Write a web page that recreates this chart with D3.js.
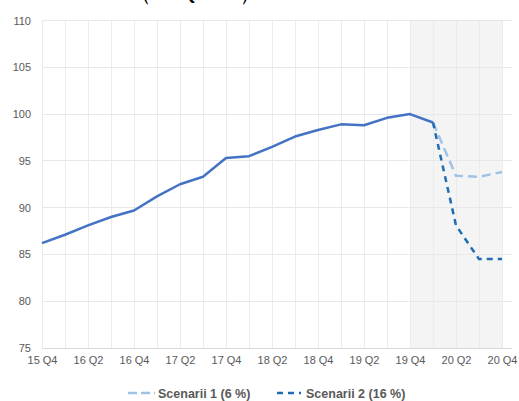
<!DOCTYPE html>
<html>
<head>
<meta charset="utf-8">
<script src="https://cdn.jsdelivr.net/npm/d3@7"></script>
<style>
  html, body { margin: 0; padding: 0; background: #fff; }
  svg { display: block; }
  text { font-family: "Liberation Sans", Arial, sans-serif; }
</style>
</head>
<body>
<svg id="chart" width="519" height="401"></svg>
<script>
const categories = ["15 Q4","16 Q1","16 Q2","16 Q3","16 Q4","17 Q1","17 Q2","17 Q3","17 Q4","18 Q1","18 Q2","18 Q3","18 Q4","19 Q1","19 Q2","19 Q3","19 Q4","20 Q1","20 Q2","20 Q3","20 Q4"];
const tickLabels = ["15 Q4","16 Q2","16 Q4","17 Q2","17 Q4","18 Q2","18 Q4","19 Q2","19 Q4","20 Q2","20 Q4"];
const yTicks = [75, 80, 85, 90, 95, 100, 105, 110];

const historyCats = categories.slice(0, 18);
const historyValues = [86.2, 87.1, 88.1, 89.0, 89.7, 91.2, 92.5, 93.3, 95.3, 95.5, 96.5, 97.6, 98.3, 98.9, 98.8, 99.6, 100.0, 99.1];

const scenarioCats = ["20 Q1","20 Q2","20 Q3","20 Q4"];
const scenario1Values = [99.1, 93.4, 93.3, 93.8];
const scenario2Values = [99.1, 88.1, 84.5, 84.5];
const seriesNames = ["Scenarii 1 (6 %)", "Scenarii 2 (16 %)"];
const shadeRange = ["19 Q4", "20 Q4"];
const titleText = "(2019 Q4 = 100)";

const svg = d3.select("#chart");
const x = d3.scalePoint().domain(categories).range([42, 502]);
const y = d3.scaleLinear().domain([75, 110]).range([348, 20.5]);
const plotRight = 512;

// title (cut off at the top edge, only descenders visible)
svg.append("text")
  .attr("x", 143).attr("y", -1.5)
  .attr("textLength", 105)
  .attr("lengthAdjust", "spacingAndGlyphs")
  .style("font-family", "'Liberation Serif', 'Times New Roman', serif")
  .style("font-weight", "bold")
  .style("font-size", "28px")
  .attr("fill", "#000")
  .text(titleText);

// shaded forecast area
svg.append("rect")
  .attr("x", x(shadeRange[0]))
  .attr("y", y(110))
  .attr("width", x(shadeRange[1]) - x(shadeRange[0]))
  .attr("height", y(75) - y(110))
  .attr("fill", "#F4F4F4");

// vertical gridlines
svg.append("g").selectAll("line").data(categories).join("line")
  .attr("x1", d => x(d)).attr("x2", d => x(d))
  .attr("y1", y(110)).attr("y2", y(75))
  .attr("stroke", "#EBEBEB").attr("stroke-width", 1)
  .attr("shape-rendering", "crispEdges");

// horizontal gridlines
svg.append("g").selectAll("line").data(yTicks).join("line")
  .attr("x1", x(categories[0])).attr("x2", plotRight)
  .attr("y1", d => y(d)).attr("y2", d => y(d))
  .attr("stroke", d => d === 75 ? "#D9D9D9" : "#E8E8E8").attr("stroke-width", 1)
  .attr("shape-rendering", "crispEdges");

// y axis labels
const yAxis = d3.axisLeft(y).tickValues(yTicks).tickSize(0).tickPadding(0);
const gy = svg.append("g").attr("transform", "translate(31,0)").call(yAxis);
gy.select(".domain").remove();
gy.selectAll("text").attr("fill", "#595959").style("font-size", "11px")
  .style("font-family", "'Liberation Sans', Arial, sans-serif");

// x axis labels
const xAxis = d3.axisBottom(x).tickValues(tickLabels).tickSize(0).tickPadding(0);
const gx = svg.append("g").attr("transform", "translate(0,356)").call(xAxis);
gx.select(".domain").remove();
gx.selectAll("text").attr("fill", "#595959").style("font-size", "11px")
  .style("font-family", "'Liberation Sans', Arial, sans-serif");

const line = d3.line().x(d => x(d[0])).y(d => y(d[1]));

// scenario lines
svg.append("path")
  .datum(scenarioCats.map((c, i) => [c, scenario1Values[i]]))
  .attr("d", line).attr("fill", "none")
  .attr("stroke", "#9DC3E6").attr("stroke-width", 2.5)
  .attr("stroke-dasharray", "9,5");

svg.append("path")
  .datum(scenarioCats.map((c, i) => [c, scenario2Values[i]]))
  .attr("d", line).attr("fill", "none")
  .attr("stroke", "#1F6BB4").attr("stroke-width", 2.5)
  .attr("stroke-dasharray", "6,5");

// history line
svg.append("path")
  .datum(historyCats.map((c, i) => [c, historyValues[i]]))
  .attr("d", line).attr("fill", "none")
  .attr("stroke", "#4472C4").attr("stroke-width", 2.5)
  .attr("stroke-linejoin", "round");

// legend
const legend = svg.append("g");
const legendItems = [
  { name: seriesNames[0], color: "#9DC3E6", dash: "9,4", x0: 128, x1: 155, tx: 158 },
  { name: seriesNames[1], color: "#1F6BB4", dash: "6,5", x0: 277, x1: 301, tx: 306 }
];
legendItems.forEach(it => {
  legend.append("line")
    .attr("x1", it.x0).attr("x2", it.x1).attr("y1", 393).attr("y2", 393)
    .attr("stroke", it.color).attr("stroke-width", 2.5)
    .attr("stroke-dasharray", it.dash);
  legend.append("text")
    .attr("x", it.tx).attr("y", 397.5)
    .attr("fill", "#595959")
    .style("font-size", "12.5px").style("font-weight", "bold")
    .text(it.name);
});
</script>
</body>
</html>
